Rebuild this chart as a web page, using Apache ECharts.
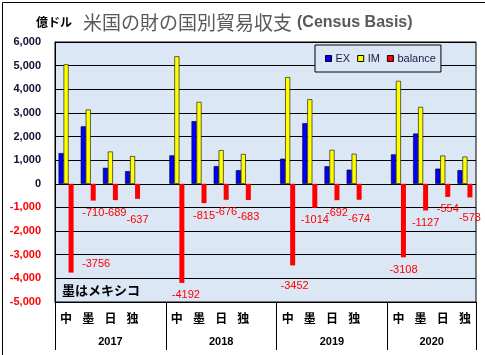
<!DOCTYPE html>
<html>
<head>
<meta charset="utf-8">
<script src="https://cdn.jsdelivr.net/npm/echarts@6/dist/echarts.min.js"></script>
<style>
html,body{margin:0;padding:0;background:#fff;}
#c{width:485px;height:355px;}
</style>
</head>
<body>
<div id="c"></div>
<script>
const years = ['2017', '2018', '2019', '2020'];
const countries = ['中', '墨', '日', '独'];
// values in 億ドル, 4 countries per year (中, 墨, 日, 独)
const exVals = [1299, 2433, 676, 535, 1203, 2650, 750, 577, 1064, 2564, 744, 597, 1245, 2127, 641, 578];
const imVals = [5055, 3143, 1365, 1172, 5395, 3465, 1426, 1260, 4516, 3578, 1436, 1271, 4353, 3254, 1195, 1151];
const balVals = [-3756, -710, -689, -637, -4192, -815, -676, -683, -3452, -1014, -692, -674, -3108, -1127, -554, -573];
const yTicks = [-5000, 6000, 1000];

// label nudges (style only)
const labelNudge = [[25,-21],[0,0],[0,0],[0,9],[4,0],[0,0],[0,0],[0,5],[2,8],[0,0],[0,0],[0,7],[0,0],[0,0],[0,0],[0,8]];

const cats = [];
const exData = [], imData = [], balData = [];
const groupStart = [];
years.forEach((y, yi) => {
  groupStart.push(cats.length);
  countries.forEach((c, ci) => {
    const k = yi * countries.length + ci;
    cats.push(c);
    exData.push(exVals[k]);
    imData.push(imVals[k]);
    balData.push({ value: balVals[k], label: { offset: labelNudge[k] } });
  });
  if (yi < years.length - 1) {
    cats.push('');
    exData.push(null); imData.push(null); balData.push(null);
  }
});
const nCat = cats.length;
const tickPos = groupStart.concat([nCat]);
const yearCenters = years.map((y, i) => (tickPos[i] + (i < years.length - 1 ? tickPos[i + 1] : nCat)) / 2);

const plotBg = '#dbe7f5';
const latin = '"Liberation Sans", Arial, sans-serif';
const jp = '"Noto Sans CJK JP", sans-serif';

const chart = echarts.init(document.getElementById('c'));
chart.setOption({
  animation: false,
  backgroundColor: '#ffffff',
  title: [
    {
      text: '{a|米国の財の国別貿易収支} {b|(Census Basis)}',
      left: 78, top: 8,
      textStyle: {
        rich: {
          a: { fontFamily: jp, fontSize: 19, color: '#595959', fontWeight: 'normal' },
          b: { fontFamily: latin, fontSize: 16, color: '#595959', fontWeight: 'bold' }
        }
      }
    },
    {
      text: '億ドル', left: 31, top: 11,
      textStyle: { fontFamily: jp, fontSize: 12, fontWeight: 'bold', color: '#000' }
    }
  ],
  legend: {
    left: 315, top: 45,
    padding: [8, 5, 8, 10],
    itemGap: 7,
    itemWidth: 6, itemHeight: 6,
    icon: 'rect',
    backgroundColor: plotBg,
    borderColor: '#000', borderWidth: 1,
    itemStyle: { borderColor: '#000', borderWidth: 1 },
    textStyle: { fontFamily: latin, fontSize: 11, color: '#1a1a40', padding: [0, 0, 0, -1] },
    data: ['EX', 'IM', 'balance']
  },
  grid: {
    left: 55, right: 9, top: 42, bottom: 53,
    show: true, backgroundColor: plotBg, borderColor: '#000', borderWidth: 1
  },
  xAxis: [
    {
      type: 'category', data: cats, position: 'bottom',
      axisLine: { onZero: false, lineStyle: { color: '#000' } },
      axisTick: { show: false },
      axisLabel: { interval: 0, margin: 10, fontFamily: jp, fontSize: 12, fontWeight: 'bold', color: '#000' },
      splitLine: { show: false }
    },
    {
      type: 'value', position: 'bottom', min: 0, max: nCat,
      axisLine: { show: false, onZero: false },
      splitLine: { show: false },
      axisTick: { show: true, customValues: tickPos, length: 48, lineStyle: { color: '#000', width: 1 } },
      axisLabel: {
        customValues: yearCenters, margin: 34,
        fontFamily: latin, fontSize: 11, fontWeight: 'bold', color: '#000',
        formatter: v => { const i = yearCenters.indexOf(v); return i >= 0 ? years[i] : ''; }
      }
    }
  ],
  yAxis: {
    type: 'value', min: yTicks[0], max: yTicks[1], interval: yTicks[2],
    axisLine: { show: true, lineStyle: { color: '#000' } },
    axisTick: { show: false },
    splitLine: { show: true, lineStyle: { color: '#000', width: 1 } },
    axisLabel: {
      margin: 14, fontFamily: latin, fontSize: 11, fontWeight: 'bold',
      color: v => (Number(v) < 0 ? '#ff0000' : '#101030'),
      formatter: v => Number(v).toLocaleString('en-US')
    }
  },
  graphic: [
    {
      type: 'rect', left: 0, top: 0, silent: true, z: 100,
      shape: { x: 0.5, y: 0.5, width: 484, height: 354 },
      style: { fill: 'none', stroke: '#000', lineWidth: 1 }
    },
    {
      type: 'text', left: 62, top: 284, z: 50,
      style: { text: '墨はメキシコ', font: 'bold 13px "Noto Sans CJK JP", sans-serif', fill: '#000' }
    }
  ],
  series: [
    {
      name: 'EX', type: 'bar', data: exData, barWidth: 5, barGap: '0%',
      itemStyle: { color: '#0000ff', borderColor: '#000', borderWidth: 0.6 }
    },
    {
      name: 'IM', type: 'bar', data: imData, barWidth: 5, barGap: '0%',
      itemStyle: { color: '#ffff00', borderColor: '#000', borderWidth: 0.6 }
    },
    {
      name: 'balance', type: 'bar', data: balData, barWidth: 5, barGap: '0%',
      itemStyle: { color: '#ff0000' },
      label: {
        show: true, position: 'bottom', distance: 7,
        fontFamily: latin, fontSize: 11, color: '#ff0000'
      }
    }
  ]
});
</script>
</body>
</html>
